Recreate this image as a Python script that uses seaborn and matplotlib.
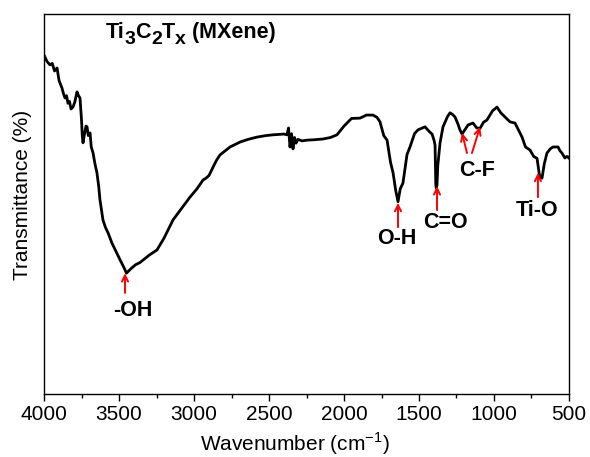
import matplotlib
matplotlib.use("Agg")
import matplotlib.pyplot as plt
import seaborn as sns
import pandas as pd
from matplotlib.ticker import MultipleLocator

wavenumber = [4000, 3980, 3960, 3945, 3930, 3913, 3900, 3893, 3880, 3870, 3860, 3850,
              3840, 3830, 3820, 3807, 3795, 3780, 3770, 3760, 3750, 3745, 3740, 3730,
              3720, 3713, 3705, 3693, 3685, 3673, 3660, 3647, 3635, 3627, 3615, 3607,
              3590, 3573, 3547, 3520, 3493, 3470, 3450, 3420, 3390, 3360, 3300, 3247,
              3200, 3140, 3080, 3027, 2980, 2940, 2920, 2900, 2873, 2850, 2827, 2760,
              2693, 2640, 2580, 2520, 2473, 2400, 2380, 2370, 2360, 2350, 2340, 2330,
              2320, 2307, 2280, 2247, 2200, 2140, 2090, 2047, 2000, 1950, 1893, 1850,
              1807, 1780, 1760, 1735, 1713, 1690, 1673, 1655, 1640, 1625, 1607, 1580,
              1560, 1530, 1507, 1460, 1430, 1413, 1400, 1393, 1388, 1385, 1380, 1375,
              1360, 1340, 1310, 1293, 1275, 1260, 1240, 1227, 1213, 1195, 1173, 1140,
              1115, 1093, 1070, 1047, 1010, 980, 955, 927, 893, 860, 813, 790, 760,
              735, 713, 695, 680, 665, 647, 625, 607, 573, 560, 547, 527, 515, 507, 500]
transmittance = [89.2, 87.5, 86.6, 87.0, 85.0, 85.8, 82.5, 81.8, 80.5, 79.0, 77.9, 78.5,
                 76.5, 77.0, 75.0, 75.5, 76.8, 79.5, 78.5, 77.9, 72.1, 68.0, 66.1, 68.5,
                 70.5, 70.3, 68.0, 68.7, 65.0, 63.4, 60.5, 58.2, 54.5, 51.1, 48.0, 45.8,
                 43.8, 42.4, 39.7, 37.5, 35.3, 33.5, 31.8, 33.0, 34.0, 34.6, 36.5, 37.9,
                 41.0, 45.8, 49.0, 51.8, 54.0, 56.3, 56.8, 57.5, 59.7, 61.5, 62.9, 65.0,
                 66.3, 67.0, 67.6, 68.0, 68.2, 68.4, 68.2, 70.0, 65.0, 68.5, 64.5, 67.5,
                 66.0, 67.0, 66.6, 66.8, 66.9, 67.1, 67.5, 68.2, 70.5, 72.5, 72.6, 73.4,
                 73.4, 72.8, 71.6, 68.0, 66.8, 61.0, 58.2, 53.5, 50.6, 54.0, 55.5, 63.0,
                 65.0, 68.5, 69.5, 70.3, 69.0, 68.4, 66.8, 65.5, 55.0, 54.2, 55.0, 60.0,
                 66.0, 70.3, 73.0, 74.0, 73.5, 72.9, 71.0, 69.5, 68.4, 69.5, 70.8, 71.3,
                 70.0, 69.9, 71.5, 72.1, 74.5, 75.5, 74.0, 72.9, 71.6, 71.3, 67.6, 65.0,
                 64.2, 62.5, 62.0, 57.0, 56.8, 60.5, 63.4, 64.5, 65.0, 65.0, 64.0, 63.4,
                 62.1, 62.5, 62.4, 62.0]

# annotations: label, text position (wavenumber, T), arrow tails/heads
labels = ["-OH", "O-H", "C=O", "C-F", "Ti-O"]
label_pos = [(3407, 22.1), (1647, 40.8), (1327, 45.0), (1113, 58.9), (713, 48.2)]
arrows = [((3460, 26.6), (3460, 31.8)),
          ((1640, 43.9), (1640, 50.3)),
          ((1380, 48.4), (1380, 54.7)),
          ((1180, 63.4), (1213, 68.7)),
          ((1147, 63.4), (1093, 70.3)),
          ((707, 51.8), (707, 58.2))]
xticks = [4000, 3500, 3000, 2500, 2000, 1500, 1000, 500]
title_parts = [("Ti", False), ("3", True), ("C", False), ("2", True),
               ("T", False), ("x", True), (" (MXene)", False)]

sns.set_style("ticks")
plt.rcParams['font.family'] = ['Liberation Sans', 'DejaVu Sans']
plt.rcParams['mathtext.fontset'] = 'custom'
plt.rcParams['mathtext.rm'] = 'Liberation Sans'
plt.rcParams['text.color'] = 'black'
plt.rcParams['axes.labelcolor'] = 'black'
plt.rcParams['xtick.color'] = 'black'

df = pd.DataFrame({"w": wavenumber, "T": transmittance})

fig = plt.figure(figsize=(5.9, 4.57), dpi=100)
ax = fig.add_axes([0.0746, 0.1379, 0.8898, 0.8315])
sns.lineplot(data=df, x="w", y="T", color="black", linewidth=2.0, estimator=None, ax=ax)

ax.set_xlim(4000, 500)
ax.set_ylim(0, 100)
ax.set_xticks(xticks)
ax.set_xticklabels([str(t) for t in xticks])
ax.xaxis.set_minor_locator(MultipleLocator(250))
ax.set_yticks([])
ax.tick_params(axis='x', which='major', direction='out', length=5, width=1,
               labelsize=15, colors='black', pad=3)
ax.tick_params(axis='x', which='minor', direction='out', length=3, width=1)
for s in ax.spines.values():
    s.set_visible(True)
    s.set_color('black')
    s.set_linewidth(1.0)
ax.set_xlabel("Wavenumber (cm$^{-1}$)", fontsize=15)
ax.set_ylabel("Transmittance (%)", fontsize=15)
ax.xaxis.set_label_coords(0.478, -0.095)
ax.yaxis.set_label_coords(-0.022, 0.525)

# title with large, lowered subscripts
prev = ax.text(0.118, 0.936, title_parts[0][0], transform=ax.transAxes,
               ha='left', va='baseline', fontsize=15.5, fontweight='bold')
prev_sub = False
for txt, sub in title_parts[1:]:
    dy = (-3.5 if sub else 0) - (-3.5 if prev_sub else 0)
    prev = ax.annotate(txt, xy=(1, 0), xycoords=prev, xytext=(0, dy),
                       textcoords='offset points', va='bottom', ha='left',
                       fontsize=(14 if sub else 15.5), fontweight='bold')
    prev_sub = sub

for lab, (x, y) in zip(labels, label_pos):
    ax.text(x, y, lab, ha='center', va='center', fontsize=15.5, fontweight='bold')
for (tail, head) in arrows:
    ax.annotate("", xy=head, xytext=tail,
                arrowprops=dict(arrowstyle="->,head_length=0.45,head_width=0.22",
                                color="red", lw=1.4, shrinkA=0, shrinkB=0))

fig.savefig("out.png", dpi=100)
